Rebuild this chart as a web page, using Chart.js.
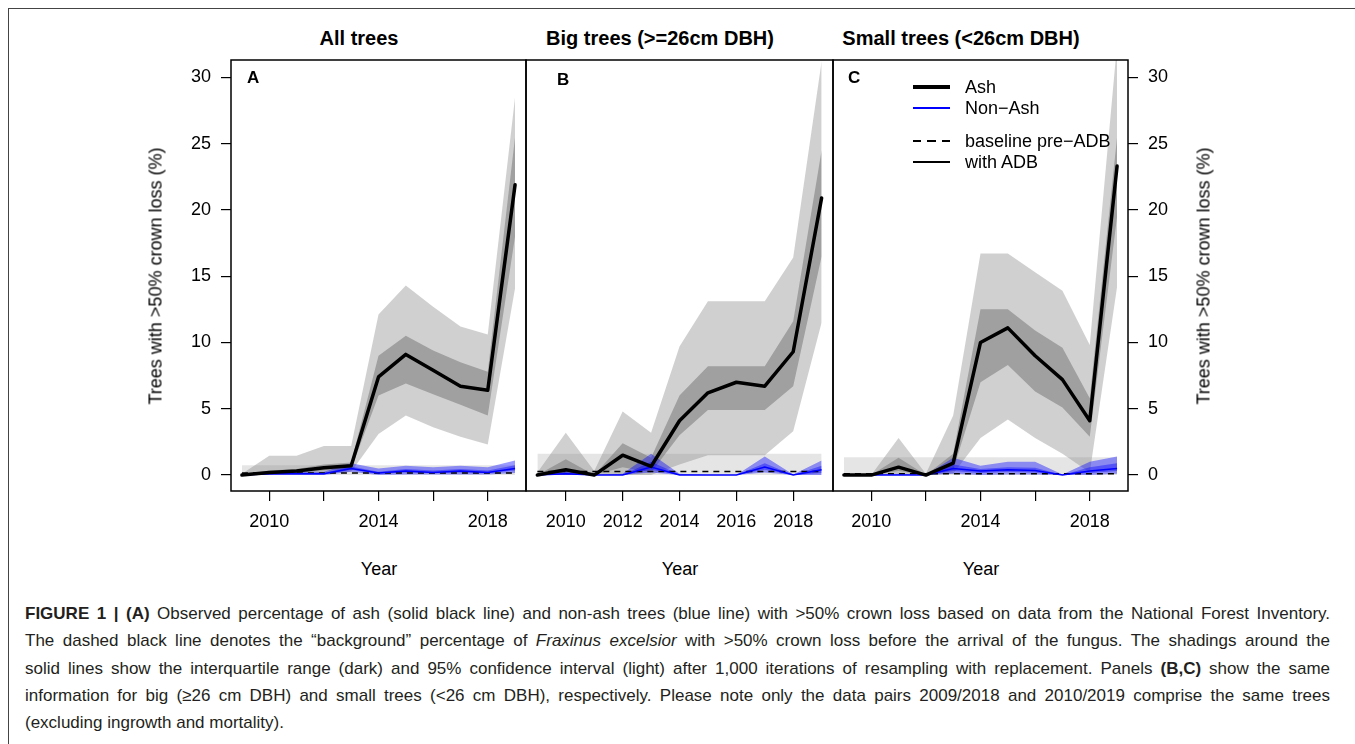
<!DOCTYPE html>
<html>
<head>
<meta charset="utf-8">
<script src="https://cdn.jsdelivr.net/npm/chart.js@4.4.0/dist/chart.umd.min.js"></script>
<style>
  html, body { margin: 0; padding: 0; background: #fff; }
  #page { position: relative; width: 1355px; height: 744px; overflow: hidden;
          font-family: "Liberation Sans", Arial, Helvetica, sans-serif; color: #000; }
  .frame { position: absolute; left: 8px; top: 8px; width: 1400px; height: 800px;
           border-top: 1.5px solid #444; border-left: 1.5px solid #444; }
  canvas { position: absolute; }
  .ptitle { position: absolute; top: 38px; font-weight: bold; font-size: 20px; white-space: nowrap;
            transform: translate(-50%, -50%); }
  .letter { position: absolute; font-weight: bold; font-size: 17px; transform: translateY(-50%); }
  .xlab { position: absolute; top: 569px; font-size: 18px; transform: translate(-50%, -50%); }
  .ylab { position: absolute; font-size: 18px; white-space: nowrap;
          transform: translate(-50%, -50%) rotate(-90deg); }
  .leg { position: absolute; font-size: 18px; white-space: nowrap; }
  .leg .row { position: absolute; left: 0; height: 20px; }
  .leg .sw { position: absolute; left: 0; width: 37px; top: 50%; }
  .leg .tx { position: absolute; left: 52px; top: 50%; transform: translateY(-50%); }
  .caption { position: absolute; left: 25px; top: 600px; width: 1305px; font-size: 17px;
             line-height: 27.3px; color: #231f20; }
  .caption div { text-align: justify; text-align-last: justify; }
  .caption div.last { text-align-last: left; }
</style>
</head>
<body>
<div id="page">
  <div class="frame"></div>

  <div class="ptitle" style="left:359px">All trees</div>
  <div class="ptitle" style="left:660px">Big trees (&gt;=26cm DBH)</div>
  <div class="ptitle" style="left:961px">Small trees (&lt;26cm DBH)</div>

  <canvas id="panelA" width="416" height="505" style="left:120px;top:35px"></canvas>
  <canvas id="panelB" width="327" height="505" style="left:516px;top:35px"></canvas>
  <canvas id="panelC" width="416" height="505" style="left:823px;top:35px"></canvas>

  <div class="letter" style="left:247px;top:78px">A</div>
  <div class="letter" style="left:557px;top:80px">B</div>
  <div class="letter" style="left:848px;top:78px">C</div>

  <div class="ylab" style="left:156px;top:276px">Trees with &gt;50% crown loss (%)</div>
  <div class="ylab" style="left:1204px;top:276px">Trees with &gt;50% crown loss (%)</div>

  <div class="xlab" style="left:379px">Year</div>
  <div class="xlab" style="left:680px">Year</div>
  <div class="xlab" style="left:981px">Year</div>

  <div class="leg" style="left:913px;top:0px">
    <div class="row" style="top:77px"><div class="sw" style="border-top:4px solid #000;margin-top:-2px"></div><div class="tx">Ash</div></div>
    <div class="row" style="top:98px"><div class="sw" style="border-top:2px solid #0000ff;margin-top:-1px"></div><div class="tx">Non−Ash</div></div>
    <div class="row" style="top:131px"><div class="sw" style="height:2px;margin-top:-1px;background:repeating-linear-gradient(to right,#000 0 8px,transparent 8px 14.5px)"></div><div class="tx">baseline pre−ADB</div></div>
    <div class="row" style="top:152px"><div class="sw" style="border-top:2px solid #000;margin-top:-1px"></div><div class="tx">with ADB</div></div>
  </div>

  <div class="caption">
    <div><b>FIGURE 1 | (A)</b> Observed percentage of ash (solid black line) and non-ash trees (blue line) with &gt;50% crown loss based on data from the National Forest Inventory.</div>
    <div>The dashed black line denotes the “background” percentage of <i>Fraxinus excelsior</i> with &gt;50% crown loss before the arrival of the fungus. The shadings around the</div>
    <div>solid lines show the interquartile range (dark) and 95% confidence interval (light) after 1,000 iterations of resampling with replacement. Panels <b>(B,C)</b> show the same</div>
    <div>information for big (≥26 cm DBH) and small trees (&lt;26 cm DBH), respectively. Please note only the data pairs 2009/2018 and 2010/2019 comprise the same trees</div>
    <div class="last">(excluding ingrowth and mortality).</div>
  </div>
</div>

<script>
// Survey years and axis ticks
const years = [2009, 2010, 2011, 2012, 2013, 2014, 2015, 2016, 2017, 2018, 2019];
const yTicks = [0, 5, 10, 15, 20, 25, 30];
const xTicks = [2010, 2012, 2014, 2016, 2018];
const xLabelsSparse = [2010, 2014, 2018];
const xLabelsFull = [2010, 2012, 2014, 2016, 2018];

// Panel A: all trees (% with >50% crown loss)
const ashA      = [0, 0.2, 0.3, 0.55, 0.7, 7.4, 9.1, 7.9, 6.7, 6.4, 21.9];
const ashA_ciLo = [0, 0.05, 0.1, 0.15, 0.25, 3.1, 4.5, 3.6, 2.9, 2.3, 14.1];
const ashA_ciHi = [0.1, 1.45, 1.45, 2.2, 2.2, 12.1, 14.3, 12.7, 11.2, 10.6, 28.5];
const ashA_qLo  = [0, 0.1, 0.15, 0.35, 0.45, 6.0, 6.9, 6.1, 5.3, 4.5, 18.0];
const ashA_qHi  = [0, 0.35, 0.45, 0.8, 0.95, 9.0, 10.5, 9.4, 8.5, 7.8, 25.5];
const nonA      = [0, 0.1, 0.1, 0.1, 0.5, 0.15, 0.3, 0.2, 0.3, 0.2, 0.5];
const nonA_ciLo = [0, 0, 0, 0, 0.25, 0, 0.05, 0.05, 0.05, 0.05, 0.15];
const nonA_ciHi = [0.1, 0.25, 0.25, 0.25, 0.9, 0.5, 0.7, 0.6, 0.7, 0.6, 1.1];
const nonA_qLo  = [0, 0.05, 0.05, 0.05, 0.4, 0.1, 0.2, 0.15, 0.2, 0.15, 0.35];
const nonA_qHi  = [0, 0.15, 0.15, 0.15, 0.65, 0.25, 0.45, 0.35, 0.45, 0.35, 0.75];

// Panel B: big trees (>=26cm DBH)
const ashB      = [0, 0.4, 0, 1.5, 0.65, 4.1, 6.2, 7.0, 6.7, 9.3, 20.9];
const ashB_ciLo = [0, 0, 0, 0, 0, 0.8, 1.5, 1.5, 1.5, 3.3, 11.5];
const ashB_ciHi = [0.2, 3.2, 0.3, 4.8, 3.2, 9.7, 13.1, 13.1, 13.1, 16.4, 31.2];
const ashB_qLo  = [0, 0.1, 0, 0.6, 0.2, 3.0, 4.9, 4.9, 4.9, 6.7, 16.5];
const ashB_qHi  = [0, 1.2, 0, 2.4, 1.3, 6.0, 8.2, 8.2, 8.2, 11.6, 24.5];
const nonB      = [0, 0.1, 0, 0, 0.6, 0, 0, 0, 0.6, 0, 0.4];
const nonB_ciLo = [0, 0, 0, 0, 0.2, 0, 0, 0, 0.2, 0, 0];
const nonB_ciHi = [0.1, 0.3, 0, 0.1, 1.6, 0.1, 0, 0, 1.4, 0.05, 1.1];
const nonB_qLo  = [0, 0.05, 0, 0, 0.4, 0, 0, 0, 0.4, 0, 0.15];
const nonB_qHi  = [0, 0.2, 0, 0, 1.0, 0.05, 0, 0, 0.9, 0, 0.7];

// Panel C: small trees (<26cm DBH)
const ashC      = [0, 0, 0.6, 0, 0.9, 10.0, 11.1, 9.0, 7.2, 4.1, 23.3];
const ashC_ciLo = [0, 0, 0.1, 0, 0.1, 2.8, 4.2, 2.8, 1.6, 0.2, 14.2];
const ashC_ciHi = [0, 0, 2.8, 0.1, 4.5, 16.7, 16.7, 15.3, 13.9, 9.8, 32.5];
const ashC_qLo  = [0, 0, 0.3, 0, 0.4, 7.0, 8.3, 6.3, 5.1, 2.9, 19.5];
const ashC_qHi  = [0, 0, 1.3, 0, 1.6, 12.5, 12.5, 10.9, 9.6, 5.8, 25.5];
const nonC      = [0, 0, 0, 0, 0.5, 0.3, 0.4, 0.35, 0, 0.3, 0.5];
const nonC_ciLo = [0, 0, 0, 0, 0.1, 0, 0.05, 0.05, 0, 0, 0.1];
const nonC_ciHi = [0, 0, 0.1, 0, 1.3, 0.7, 1.0, 1.0, 0.05, 1.0, 1.4];
const nonC_qLo  = [0, 0, 0, 0, 0.3, 0.15, 0.25, 0.2, 0, 0.15, 0.3];
const nonC_qHi  = [0, 0, 0.05, 0, 0.8, 0.45, 0.6, 0.55, 0, 0.6, 0.9];

// Pre-ADB baseline level and its interval, per panel (A, B, C)
const baseLevel = [0.15, 0.27, 0.1];
const baseLow   = [0, 0, 0];
const baseHigh  = [0.75, 1.6, 1.35];

// ---- rendering ----
Chart.defaults.font.family = '"Liberation Sans", Arial, Helvetica, sans-serif';
Chart.defaults.color = '#000';

const X_MIN = 2008.6, X_MAX = 2019.4, Y_MIN = -1.2, Y_MAX = 31.3;
const GREY_CI = 'rgba(120,120,120,0.35)';
const GREY_Q = 'rgba(120,120,120,0.55)';
const BLUE_CI = 'rgba(0,0,255,0.4)';
const BLUE_Q = 'rgba(0,0,255,0.4)';
const BASE_BAND = 'rgba(0,0,0,0.1)';

const pts = ys => years.map((x, i) => ({ x, y: ys[i] }));
const span = v => [{ x: years[0], y: v }, { x: years[years.length - 1], y: v }];

function edge(data) {
  return { data, borderWidth: 0, pointRadius: 0, fill: false, borderColor: 'rgba(0,0,0,0)' };
}
function band(lo, hi, color) {
  return [edge(lo), Object.assign(edge(hi), { fill: '-1', backgroundColor: color })];
}

function panelDatasets(p, ash, aLo, aHi, qLo, qHi, non, nLo, nHi, nqLo, nqHi) {
  const list = [
    ...band(span(baseLow[p]), span(baseHigh[p]), BASE_BAND),
    ...band(pts(aLo), pts(aHi), GREY_CI),
    ...band(pts(qLo), pts(qHi), GREY_Q),
    ...band(pts(nLo), pts(nHi), BLUE_CI),
    ...band(pts(nqLo), pts(nqHi), BLUE_Q),
    { data: span(baseLevel[p]), borderColor: '#000', borderWidth: 1.5, borderDash: [6, 5], pointRadius: 0, fill: false },
    { data: pts(non), borderColor: '#0000ff', borderWidth: 1.5, pointRadius: 0, fill: false },
    { data: pts(ash), borderColor: '#000', borderWidth: 3.5, pointRadius: 0, fill: false,
      borderJoinStyle: 'round', borderCapStyle: 'round' }
  ];
  // first entry is painted first (underneath)
  list.forEach((d, i) => { d.order = list.length - i; d.tension = 0; });
  return list;
}

const panelBox = {
  id: 'panelBox',
  afterDraw(chart) {
    const { ctx, chartArea: a } = chart;
    ctx.save();
    ctx.strokeStyle = '#000';
    ctx.lineWidth = 1.5;
    ctx.strokeRect(a.left, a.top, a.right - a.left, a.bottom - a.top);
    ctx.restore();
  }
};

function xScale(labelled) {
  return {
    type: 'linear', position: 'bottom', min: X_MIN, max: X_MAX,
    afterFit: s => { s.height = 49; },
    afterBuildTicks: s => { s.ticks = xTicks.map(v => ({ value: v })); },
    ticks: { autoSkip: false, maxRotation: 0, padding: 10, font: { size: 18 },
             callback: v => labelled.includes(v) ? String(v) : '' },
    grid: { drawOnChartArea: false, drawTicks: true, tickLength: 10, color: '#000', lineWidth: 1.2 },
    border: { display: false }
  };
}
function yScale(position, show) {
  const s = {
    type: 'linear', position, min: Y_MIN, max: Y_MAX, display: show,
    afterBuildTicks: sc => { sc.ticks = yTicks.map(v => ({ value: v })); },
    ticks: { autoSkip: false, padding: 10, font: { size: 18 }, callback: v => String(v) },
    grid: { drawOnChartArea: false, drawTicks: true, tickLength: 10, color: '#000', lineWidth: 1.2 },
    border: { display: false }
  };
  if (show) s.afterFit = sc => { sc.width = 111; };
  return s;
}

function makePanel(id, datasets, xLabels, yPos, yShow, padding) {
  return new Chart(document.getElementById(id), {
    type: 'line',
    data: { datasets },
    options: {
      responsive: false, animation: false, events: [],
      layout: { padding },
      plugins: { legend: { display: false }, tooltip: { enabled: false } },
      scales: { x: xScale(xLabels), y: yScale(yPos, yShow) }
    },
    plugins: [panelBox]
  });
}

makePanel('panelA',
  panelDatasets(0, ashA, ashA_ciLo, ashA_ciHi, ashA_qLo, ashA_qHi, nonA, nonA_ciLo, nonA_ciHi, nonA_qLo, nonA_qHi),
  xLabelsSparse, 'left', true, { top: 25, right: 10, bottom: 0, left: 0 });

makePanel('panelB',
  panelDatasets(1, ashB, ashB_ciLo, ashB_ciHi, ashB_qLo, ashB_qHi, nonB, nonB_ciLo, nonB_ciHi, nonB_qLo, nonB_qHi),
  xLabelsFull, 'left', false, { top: 25, right: 10, bottom: 0, left: 10 });

makePanel('panelC',
  panelDatasets(2, ashC, ashC_ciLo, ashC_ciHi, ashC_qLo, ashC_qHi, nonC, nonC_ciLo, nonC_ciHi, nonC_qLo, nonC_qHi),
  xLabelsSparse, 'right', true, { top: 25, right: 0, bottom: 0, left: 10 });
</script>
</body>
</html>
